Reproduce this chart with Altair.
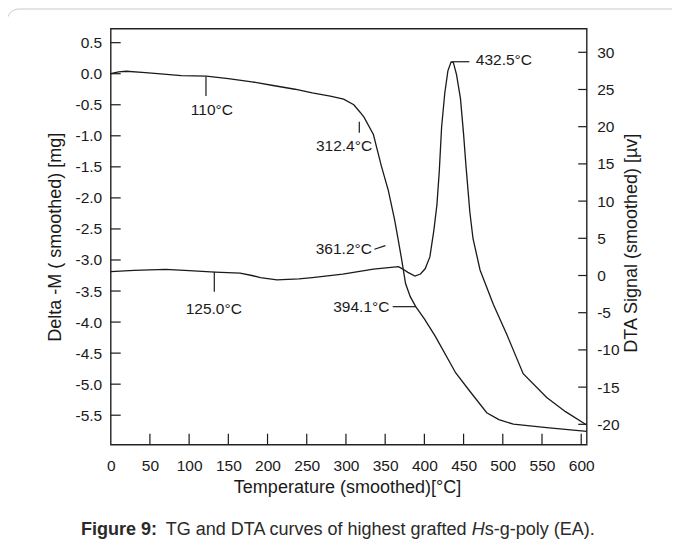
import altair as alt
import pandas as pd

# ---------------- data ----------------
temp_tg = [0, 10, 20, 40, 60, 90, 122, 150, 180, 207, 235, 257, 280, 297, 310, 318,
           323, 335, 345, 354, 362, 367, 371, 376, 382, 389, 400, 414, 440, 459,
           479.5, 495, 513.5, 556, 607]
tg_mass = [0.00, 0.03, 0.04, 0.02, 0.00, -0.03, -0.04, -0.08, -0.13, -0.19, -0.25,
           -0.31, -0.36, -0.41, -0.50, -0.62, -0.70, -0.98, -1.48, -1.88, -2.35,
           -2.70, -2.99, -3.38, -3.59, -3.75, -3.95, -4.23, -4.82, -5.13, -5.46,
           -5.57, -5.645, -5.70, -5.76]

temp_dta = [0, 30, 70, 100, 133, 165, 180, 191, 212, 240, 257, 296, 335, 367, 372,
            379, 388, 395, 401, 407, 412, 416, 419, 422, 426, 430, 434, 437, 441,
            446, 450, 453, 458, 462, 471, 488, 505, 526, 556, 580, 607]
dta_signal = [0.51, 0.7, 0.83, 0.65, 0.45, 0.31, 0.0, -0.28, -0.6, -0.45, -0.28,
              0.19, 0.85, 1.18, 0.9, 0.42, -0.07, 0.2, 0.9, 2.5, 6.0, 9.5, 14.0,
              20.0, 24.5, 27.5, 28.7, 28.6, 27.0, 23.8, 19.0, 14.8, 8.5, 5.0, 0.74,
              -3.9, -7.9, -13.2, -16.4, -18.3, -20.1]

x_ticks = [0, 50, 100, 150, 200, 250, 300, 350, 400, 450, 500, 550, 600]
tg_ticks = [0.5, 0.0, -0.5, -1.0, -1.5, -2.0, -2.5, -3.0, -3.5, -4.0, -4.5, -5.0, -5.5]
dta_ticks = [30, 25, 20, 15, 10, 5, 0, -5, -10, -15, -20]

# annotations (data units)
tg_seg_t1 = [121.5, 317.0, 336.3, 359.6]
tg_seg_t2 = [121.5, 317.0, 350.3, 389.3]
tg_seg_v1 = [-0.048, -0.773, -2.827, -3.752]
tg_seg_v2 = [-0.359, -0.950, -2.769, -3.752]
tg_lab_text = ["110°C", "312.4°C", "361.2°C", "394.1°C"]
tg_lab_t = [129.0, 297.5, 297.3, 319.6]
tg_lab_v = [-0.584, -1.164, -2.83, -3.752]

dta_seg_t1 = [434.8, 132.1]
dta_seg_t2 = [457.3, 132.1]
dta_seg_v1 = [28.73, 0.51]
dta_seg_v2 = [28.73, -2.18]
dta_lab_text = ["432.5°C", "125.0°C"]
dta_lab_t = [465.6, 131.4]
dta_lab_v = [28.9, -4.5]

# ---------------- layout ----------------
W, H = 476, 416
X_DOM = [0, 607]
TG_DOM = [-5.975, 0.725]
DTA_DOM = [-22.74, 33.17]
FONT = "Liberation Sans, Arial, Helvetica, sans-serif"
INK = "#1a1a1a"
LBL = 15.5
TTL = 18

xs = alt.Scale(domain=X_DOM, nice=False, zero=False)
ys_tg = alt.Scale(domain=TG_DOM, nice=False, zero=False)
ys_dta = alt.Scale(domain=DTA_DOM, nice=False, zero=False)

tg_df = pd.DataFrame({"T": temp_tg, "v": tg_mass})
dta_df = pd.DataFrame({"T": temp_dta, "v": dta_signal})
one = pd.DataFrame({"a": [0]})

x_axis = alt.Axis(values=x_ticks, tickSize=0, domain=False, grid=False,
                  labelPadding=14, labelFontSize=LBL, labelFont=FONT, labelColor=INK,
                  title="Temperature (smoothed)[°C]", titleFont=FONT, titleFontSize=TTL,
                  titleFontWeight="normal", titleColor=INK, titleX=236.3, titleY=42.5,
                  titleBaseline="middle", titleAlign="center", labelFlush=False)


def X(field):
    return alt.X(field, scale=xs, axis=x_axis, title="Temperature (smoothed)[°C]")


tg_axis = alt.Axis(values=tg_ticks, tickSize=0, domain=False, grid=False,
                   labelPadding=9, labelFontSize=LBL, labelFont=FONT, labelColor=INK,
                   labelExpr="(datum.value < 0 ? '-' : '') + format(abs(datum.value), '.1f')",
                   title="Delta -M ( smoothed) [mg]", titleFont=FONT, titleFontSize=TTL,
                   titleFontWeight="normal", titleColor=INK, titleAngle=270,
                   titleX=-54.7, titleY=208, titleBaseline="middle", titleAlign="center")

dta_axis = alt.Axis(values=dta_ticks, tickSize=0, domain=False, grid=False, orient="right",
                    labelPadding=10, labelFontSize=LBL, labelFont=FONT, labelColor=INK,
                    labelExpr="(datum.value < 0 ? '-' : '') + format(abs(datum.value), 'd')",
                    title="DTA Signal (smoothed) [µv]", titleFont=FONT, titleFontSize=TTL,
                    titleFontWeight="normal", titleColor=INK, titleAngle=270,
                    titleX=44.3, titleY=214, titleBaseline="middle", titleAlign="center")

border = alt.Chart(one).mark_rect(fillOpacity=0, stroke="#c9c9c9", strokeWidth=1,
                                  cornerRadius=12).encode(
    x=alt.value(-103.7), x2=alt.value(700), y=alt.value(-19.7), y2=alt.value(620))

tg_line = alt.Chart(tg_df).mark_line(color=INK, strokeWidth=1.3).encode(
    x=X("T:Q"),
    y=alt.Y("v:Q", scale=ys_tg, axis=tg_axis))

dta_line = alt.Chart(dta_df).mark_line(color=INK, strokeWidth=1.3).encode(
    x=X("T:Q"),
    y=alt.Y("v:Q", scale=ys_dta, axis=dta_axis))

tg_seg = alt.Chart(pd.DataFrame({"T": tg_seg_t1, "t2": tg_seg_t2,
                                 "v1": tg_seg_v1, "v2": tg_seg_v2})).mark_rule(
    color=INK, strokeWidth=1.2).encode(
    x=X("T:Q"), x2="t2:Q",
    y=alt.Y("v1:Q", scale=ys_tg, axis=None), y2="v2:Q")

tg_lab = alt.Chart(pd.DataFrame({"T": tg_lab_t, "v": tg_lab_v, "s": tg_lab_text})).mark_text(
    font=FONT, fontSize=LBL, color=INK, align="center", baseline="middle").encode(
    x=X("T:Q"),
    y=alt.Y("v:Q", scale=ys_tg, axis=None), text="s:N")

dta_seg = alt.Chart(pd.DataFrame({"T": dta_seg_t1, "t2": dta_seg_t2,
                                  "v1": dta_seg_v1, "v2": dta_seg_v2})).mark_rule(
    color=INK, strokeWidth=1.2).encode(
    x=X("T:Q"), x2="t2:Q",
    y=alt.Y("v1:Q", scale=ys_dta, axis=None), y2="v2:Q")

dta_lab_l = alt.Chart(pd.DataFrame({"T": dta_lab_t[:1], "v": dta_lab_v[:1],
                                    "s": dta_lab_text[:1]})).mark_text(
    font=FONT, fontSize=LBL, color=INK, align="left", baseline="middle").encode(
    x=X("T:Q"),
    y=alt.Y("v:Q", scale=ys_dta, axis=None), text="s:N")

dta_lab_c = alt.Chart(pd.DataFrame({"T": dta_lab_t[1:], "v": dta_lab_v[1:],
                                    "s": dta_lab_text[1:]})).mark_text(
    font=FONT, fontSize=LBL, color=INK, align="center", baseline="middle").encode(
    x=X("T:Q"),
    y=alt.Y("v:Q", scale=ys_dta, axis=None), text="s:N")

tg_tick = alt.Chart(pd.DataFrame({"v": tg_ticks})).mark_rule(color=INK, strokeWidth=1.2).encode(
    y=alt.Y("v:Q", scale=ys_tg, axis=None), x=alt.value(0), x2=alt.value(10))

dta_tick = alt.Chart(pd.DataFrame({"v": dta_ticks})).mark_rule(color=INK, strokeWidth=1.2).encode(
    y=alt.Y("v:Q", scale=ys_dta, axis=None), x=alt.value(W - 8.5), x2=alt.value(W))

x_tick = alt.Chart(pd.DataFrame({"T": x_ticks[1:]})).mark_rule(color=INK, strokeWidth=1.2).encode(
    x=X("T:Q"), y=alt.value(H), y2=alt.value(H - 11))

cap_y = 500.8
cap1 = alt.Chart(one).mark_text(font=FONT, fontSize=18, fontWeight="bold", color="#2a2a2a",
                                align="left", baseline="middle").encode(
    x=alt.value(-29.7), y=alt.value(cap_y), text=alt.value("Figure 9:"))
cap2 = alt.Chart(one).mark_text(font=FONT, fontSize=18, color="#2a2a2a",
                                align="left", baseline="middle").encode(
    x=alt.value(55.0), y=alt.value(cap_y),
    text=alt.value("TG and DTA curves of highest grafted"))
cap3 = alt.Chart(one).mark_text(font=FONT, fontSize=18, fontStyle="italic", color="#2a2a2a",
                                align="left", baseline="middle").encode(
    x=alt.value(361.0), y=alt.value(cap_y), text=alt.value("H"))
cap4 = alt.Chart(one).mark_text(font=FONT, fontSize=18, color="#2a2a2a",
                                align="left", baseline="middle").encode(
    x=alt.value(374.0), y=alt.value(cap_y), text=alt.value("s-g-poly (EA)."))

chart = alt.layer(
    border, tg_line, dta_line, tg_seg, tg_lab, dta_seg, dta_lab_l, dta_lab_c,
    tg_tick, dta_tick, x_tick, cap1, cap2, cap3, cap4
).resolve_scale(y="independent").properties(
    width=W, height=H,
    autosize=alt.AutoSizeParams(type="none"),
    padding={"left": 102.7, "top": 20.7, "right": 85.3, "bottom": 98.3},
    background="white",
).configure_view(stroke="#222", strokeWidth=1.4)

chart.save("out.html", embed_options={"renderer": "svg", "actions": False})
